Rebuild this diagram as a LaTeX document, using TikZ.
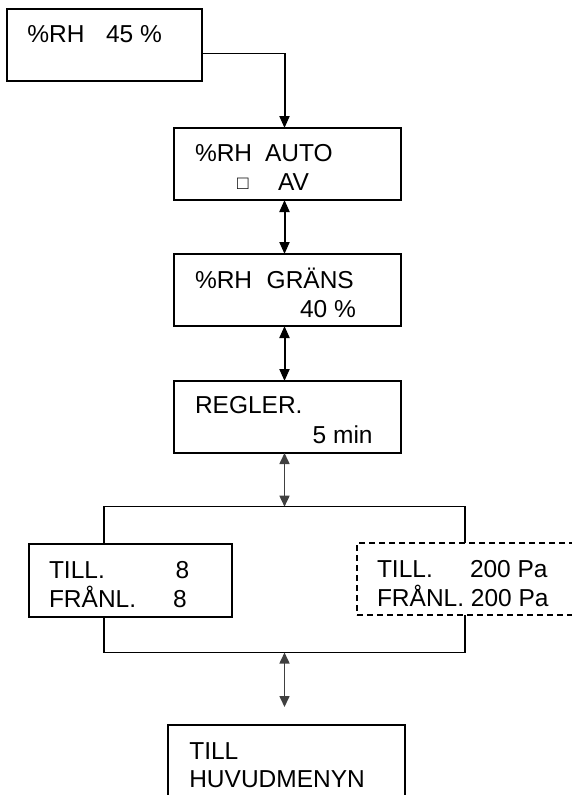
\documentclass[tikz,border=0pt]{standalone}
\usepackage{fontspec}
\setmainfont{Liberation Sans}
\usetikzlibrary{arrows.meta}
\definecolor{arrgray}{HTML}{404040}
\begin{document}
\begin{tikzpicture}[x=1pt,y=-1pt,
  box/.style={draw=black,line width=1.5pt,inner sep=0pt,outer sep=0pt,minimum width=#1},
  dbox/.style={box=#1,dash pattern=on 6pt off 4pt},
  txt/.style={inner sep=0pt,outer sep=0pt,anchor=base west,font=\fontsize{24.5}{28}\selectfont},
  blk/.style={line width=2pt,black,-{Triangle[length=12pt,width=10pt]}},
  blk2/.style={line width=2pt,black,{Triangle[length=12pt,width=10pt]}-{Triangle[length=12pt,width=10pt]}},
  gry2/.style={line width=1.6pt,arrgray,{Triangle[length=11pt,width=10pt]}-{Triangle[length=11pt,width=10pt]}},
  wire/.style={line width=1.5pt,black}]
\useasboundingbox (0,0) rectangle (572,795);
% boxes
\node[box=195pt,minimum height=72pt] (b1) at (104.5,45) {};
\node[box=227pt,minimum height=72pt] (b2) at (287.5,164) {};
\node[box=227pt,minimum height=72pt] (b3) at (287.5,290) {};
\node[box=227pt,minimum height=72pt] (b4) at (287.5,417) {};
\node[box=203pt,minimum height=73pt] (b5) at (130.5,580.5) {};
\node[dbox=243pt,minimum height=72pt] (b6) at (478.5,579) {};
\node[box=237pt,minimum height=105pt] (b7) at (286.5,777.5) {};
% texts
\node[txt] (t1a) at (27.3,42.7) {\%RH};
\node[txt] (t1b) at (106,42.7) {45 \%};
\node[txt] (t2a) at (195,161) {\%RH};
\node[txt] (t2b) at (265,161) {AUTO};
\node[txt,font=\fontsize{19}{22}\selectfont] (t2c) at (237,189) {\char"25A1};
\node[txt] (t2d) at (278,190) {AV};
\node[txt] (t3a) at (195,288.5) {\%RH};
\node[txt] (t3b) at (266.7,288.5) {GRÄNS};
\node[txt] (t3c) at (300,317) {40 \%};
\node[txt] (t4a) at (195,413) {REGLER.};
\node[txt] (t4b) at (312.7,443) {5 min};
\node[txt] (t5a) at (49,578) {TILL.};
\node[txt] (t5b) at (175.7,578) {8};
\node[txt] (t5c) at (49,607) {FRÅNL.};
\node[txt] (t5d) at (173,607) {8};
\node[txt] (t6a) at (377,577) {TILL.};
\node[txt] (t6b) at (470,577) {200 Pa};
\node[txt] (t6c) at (377,606) {FRÅNL. 200 Pa};
\node[txt] (t7a) at (189.3,759) {TILL};
\node[txt] (t7b) at (189.3,787.3) {HUVUDMENYN};
% coordinates
\coordinate (c1) at (284.5,53.3);
\coordinate (xl) at (104,0);
\coordinate (xr) at (465,0);
\coordinate (br1) at (284.5,506.7);
\coordinate (br2) at (284.5,652.5);
\coordinate (a7) at (284.5,707);
% connectors
\draw[wire] (b1.east |- c1) -- (c1);
\draw[blk] (c1) -- (b2.north -| c1);
\draw[blk2] (b2.south -| c1) -- (b3.north -| c1);
\draw[blk2] (b3.south -| c1) -- (b4.north -| c1);
\draw[gry2] (b4.south -| c1) -- (br1);
\draw[wire] (b5.north -| xl) |- (br1) -| (b6.north -| xr);
\draw[wire] (b5.south -| xl) |- (br2) -| (b6.south -| xr);
\draw[gry2] (br2) -- (a7);
\end{tikzpicture}
\end{document}
